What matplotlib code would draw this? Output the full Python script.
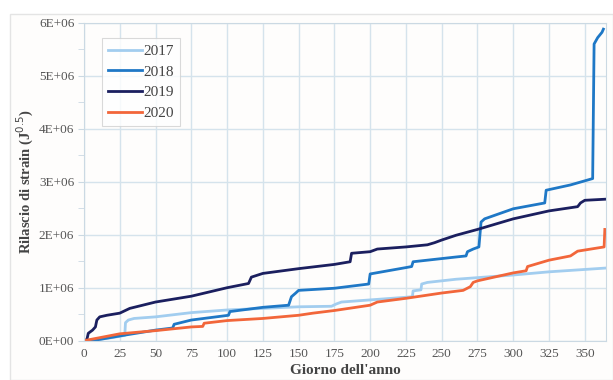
import matplotlib.pyplot as plt
from matplotlib.patches import Rectangle
from matplotlib.ticker import MultipleLocator, FuncFormatter

# Cumulative strain release (values in millions of J^0.5)
days_2017 = [0, 10, 20, 28.5, 29, 31, 35, 50, 75, 100, 125, 150, 173, 176, 180, 200, 225,
             229.5, 230, 235.5, 236, 240, 260, 300, 325, 364]
vals_2017 = [0, 0.02, 0.06, 0.1, 0.34, 0.39, 0.42, 0.45, 0.53, 0.58, 0.61, 0.64, 0.65, 0.69,
             0.73, 0.77, 0.82, 0.83, 0.94, 0.96, 1.07, 1.1, 1.16, 1.24, 1.3, 1.37]

days_2018 = [0, 10, 25, 50, 62, 63, 75, 101, 102, 125, 143, 145, 148, 150, 175, 199, 200,
             225, 229, 230, 260, 267, 268, 272, 276, 277.5, 280, 300, 322, 323, 340, 355.5,
             356.5, 359, 362, 363]
vals_2018 = [0, 0.02, 0.09, 0.2, 0.24, 0.31, 0.39, 0.48, 0.55, 0.63, 0.67, 0.83, 0.9, 0.95,
             0.99, 1.07, 1.26, 1.38, 1.4, 1.49, 1.58, 1.6, 1.68, 1.73, 1.77, 2.24, 2.3, 2.49,
             2.6, 2.84, 2.94, 3.06, 5.6, 5.72, 5.82, 5.88]

days_2019 = [0, 2, 3, 6, 8, 9, 11, 16, 25, 32, 50, 75, 100, 115, 117, 125, 150, 175, 186,
             187, 200, 205, 225, 240, 245, 250, 260, 275, 300, 325, 345, 347, 350, 364]
vals_2019 = [0, 0.02, 0.14, 0.2, 0.26, 0.39, 0.45, 0.48, 0.52, 0.61, 0.73, 0.84, 1.0, 1.08,
             1.2, 1.27, 1.36, 1.44, 1.49, 1.65, 1.68, 1.73, 1.77, 1.81, 1.85, 1.9, 1.99, 2.1,
             2.3, 2.45, 2.53, 2.6, 2.65, 2.67]

days_2020 = [0, 25, 50, 75, 83, 84, 100, 125, 150, 160, 175, 200, 205, 225, 250, 265, 270,
             272, 275, 300, 309, 310, 325, 340, 345, 363.5, 364]
vals_2020 = [0, 0.13, 0.19, 0.26, 0.27, 0.33, 0.38, 0.42, 0.48, 0.52, 0.57, 0.67, 0.73, 0.8,
             0.9, 0.95, 1.02, 1.1, 1.13, 1.28, 1.32, 1.4, 1.52, 1.6, 1.69, 1.77, 2.1]

labels = ["2017", "2018", "2019", "2020"]
colors = ["#a2cdef", "#1f78c6", "#1b1f5f", "#f2663a"]

plt.rcParams['font.family'] = ['Liberation Serif', 'DejaVu Serif']

fig = plt.figure(figsize=(6.13, 3.8), dpi=100)
fig.patches.append(Rectangle((0.016, 0.0), 0.984, 0.962, transform=fig.transFigure,
                             facecolor="#fefdfc", edgecolor="#e4e4e4", lw=1, zorder=-1))
ax = fig.add_axes([0.137, 0.1034, 0.852, 0.8366])
ax.set_facecolor("#fefdfc")

series = [(days_2017, vals_2017), (days_2018, vals_2018),
          (days_2019, vals_2019), (days_2020, vals_2020)]
for (d, v), lab, c in zip(series, labels, colors):
    ax.plot(d, [x * 1e6 for x in v], color=c, lw=2, label=lab, solid_joinstyle="round")

ax.set_xlim(0, 365)
ax.set_ylim(0, 6e6)
ax.xaxis.set_major_locator(MultipleLocator(25))
ax.yaxis.set_major_locator(MultipleLocator(1e6))
ax.yaxis.set_minor_locator(MultipleLocator(5e5))
ax.yaxis.set_major_formatter(FuncFormatter(lambda v, p: f"{int(round(v / 1e6))}E+{'06' if v else '00'}"))

ax.grid(True, which="major", color="#d5e3ec", lw=1)
ax.set_axisbelow(True)
for s in ax.spines.values():
    s.set_color("#cbd9e3")
ax.tick_params(axis="y", which="both", direction="out", length=4, color="#cbd9e3",
               labelsize=9.5, labelcolor="#555555", pad=3)
ax.tick_params(axis="x", length=0, labelsize=9.5, labelcolor="#555555", pad=5)

ax.set_xlabel("Giorno dell'anno", fontsize=11, fontweight="bold", color="#444444", labelpad=3)
ax.set_ylabel("Rilascio di strain (J$^{0.5}$)", fontsize=10.5, fontweight="bold",
              color="#444444", labelpad=2)

leg = ax.legend(loc="upper left", bbox_to_anchor=(0.02, 0.975), fontsize=11,
                frameon=True, fancybox=False, handlelength=2.2, handletextpad=0.1,
                borderpad=0.4, labelspacing=0.45, labelcolor="#444444")
leg.get_frame().set_edgecolor("#d0d0d0")
leg.get_frame().set_linewidth(0.8)

fig.savefig("out.png", dpi=100)
